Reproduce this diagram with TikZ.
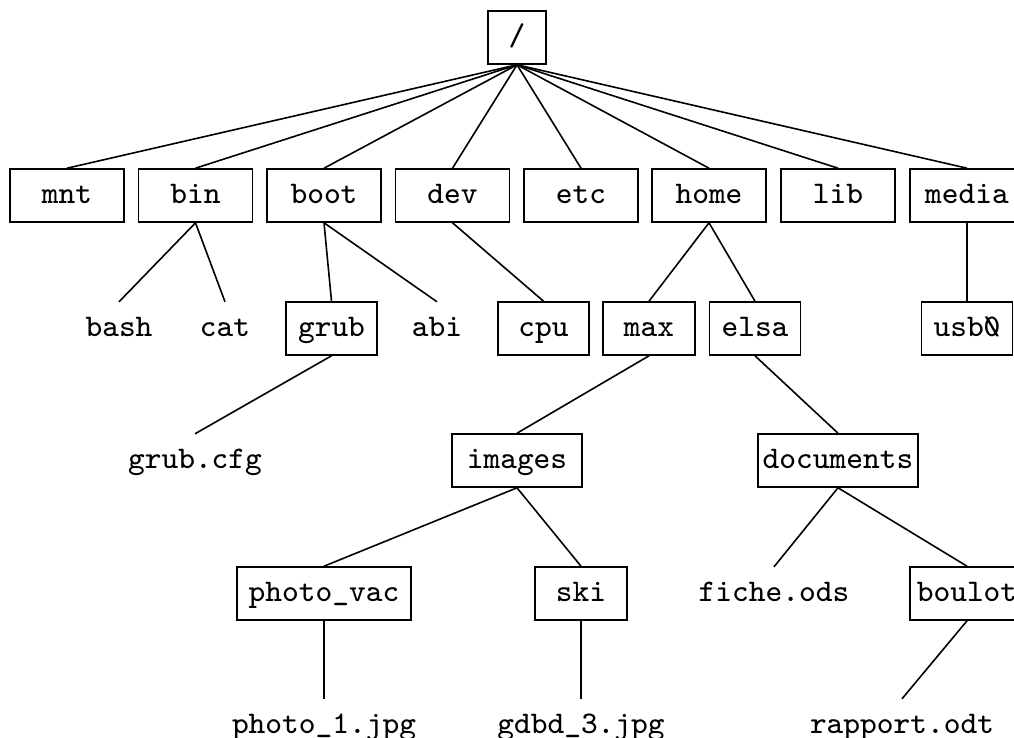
\documentclass[tikz,border=0pt]{standalone}
\usepackage{fontspec}
\IfFontExistsTF{lmmono8-regular.otf}
  {\setmonofont{lmmono8-regular.otf}[RawFeature=+zero]}
  {\setmonofont{Latin Modern Mono}[RawFeature=+zero,FakeBold=0.6]}
\begin{document}
\begin{tikzpicture}[x=1pt,y=-1pt,
  every node/.style={font=\fontsize{31.5}{38}\selectfont\ttfamily, inner sep=2pt,
    minimum height=53pt, text height=22pt, text depth=6pt},
  dir/.style={draw, line width=1.6pt},
  file/.style={},
  link/.style={line width=1.6pt}]
\useasboundingbox (0,0) rectangle (1014,737);
% root
\node[dir, minimum width=58pt] (root) at (517,37.5) {/};
% level 1
\node[dir, minimum width=114pt] (mnt)   at (67,195.5)  {mnt};
\node[dir, minimum width=114pt] (bin)   at (195.5,195.5) {bin};
\node[dir, minimum width=114pt] (boot)  at (324,195.5) {boot};
\node[dir, minimum width=114pt] (dev)   at (452.5,195.5) {dev};
\node[dir, minimum width=114pt] (etc)   at (581,195.5) {etc};
\node[dir, minimum width=114pt] (home)  at (709,195.5) {home};
\node[dir, minimum width=114pt] (lib)   at (838,195.5) {lib};
\node[dir, minimum width=114pt] (media) at (967,195.5) {media};
% level 2
\node[file] (bash) at (119,328.5) {bash};
\node[file] (cat)  at (225,328.5) {cat};
\node[dir, minimum width=91pt] (grub) at (331.5,328.5) {grub};
\node[file] (abi)  at (437,328.5) {abi};
\node[dir, minimum width=91pt] (cpu)  at (543.5,328.5) {cpu};
\node[dir, minimum width=92pt] (max)  at (649,328.5) {max};
\node[dir, minimum width=91pt] (elsa) at (755,328.5) {elsa};
\node[dir, minimum width=91pt] (usb)  at (967,328.5) {usb0};
% level 3
\node[file] (grubcfg) at (195,460.5) {grub.cfg};
\node[dir, minimum width=130pt] (images) at (517,460.5) {images};
\node[dir, minimum width=160pt] (documents) at (838,460.5) {documents};
% level 4
\node[dir, minimum width=174pt] (photovac) at (324,593.5) {photo\_vac};
\node[dir, minimum width=92pt] (ski) at (581,593.5) {ski};
\node[file] (fiche) at (774,593.5) {fiche.ods};
\node[dir, minimum width=114pt] (boulot) at (967,593.5) {boulot};
% level 5
\node[file] (photo1) at (324,725.5) {photo\_1.jpg};
\node[file] (gdbd) at (581,725.5) {gdbd\_3.jpg};
\node[file] (rapport) at (902,725.5) {rapport.odt};
% connectors
\foreach \c in {mnt,bin,boot,dev,etc,home,lib,media}
  \draw[link] (root.south) -- (\c.north);
\draw[link] (bin.south) -- (bash.north);
\draw[link] (bin.south) -- (cat.north);
\draw[link] (boot.south) -- (grub.north);
\draw[link] (boot.south) -- (abi.north);
\draw[link] (dev.south) -- (cpu.north);
\draw[link] (home.south) -- (max.north);
\draw[link] (home.south) -- (elsa.north);
\draw[link] (media.south) -- (usb.north);
\draw[link] (grub.south) -- (grubcfg.north);
\draw[link] (max.south) -- (images.north);
\draw[link] (elsa.south) -- (documents.north);
\draw[link] (images.south) -- (photovac.north);
\draw[link] (images.south) -- (ski.north);
\draw[link] (documents.south) -- (fiche.north);
\draw[link] (documents.south) -- (boulot.north);
\draw[link] (photovac.south) -- (photo1.north);
\draw[link] (ski.south) -- (gdbd.north);
\draw[link] (boulot.south) -- (rapport.north);
\end{tikzpicture}
\end{document}
